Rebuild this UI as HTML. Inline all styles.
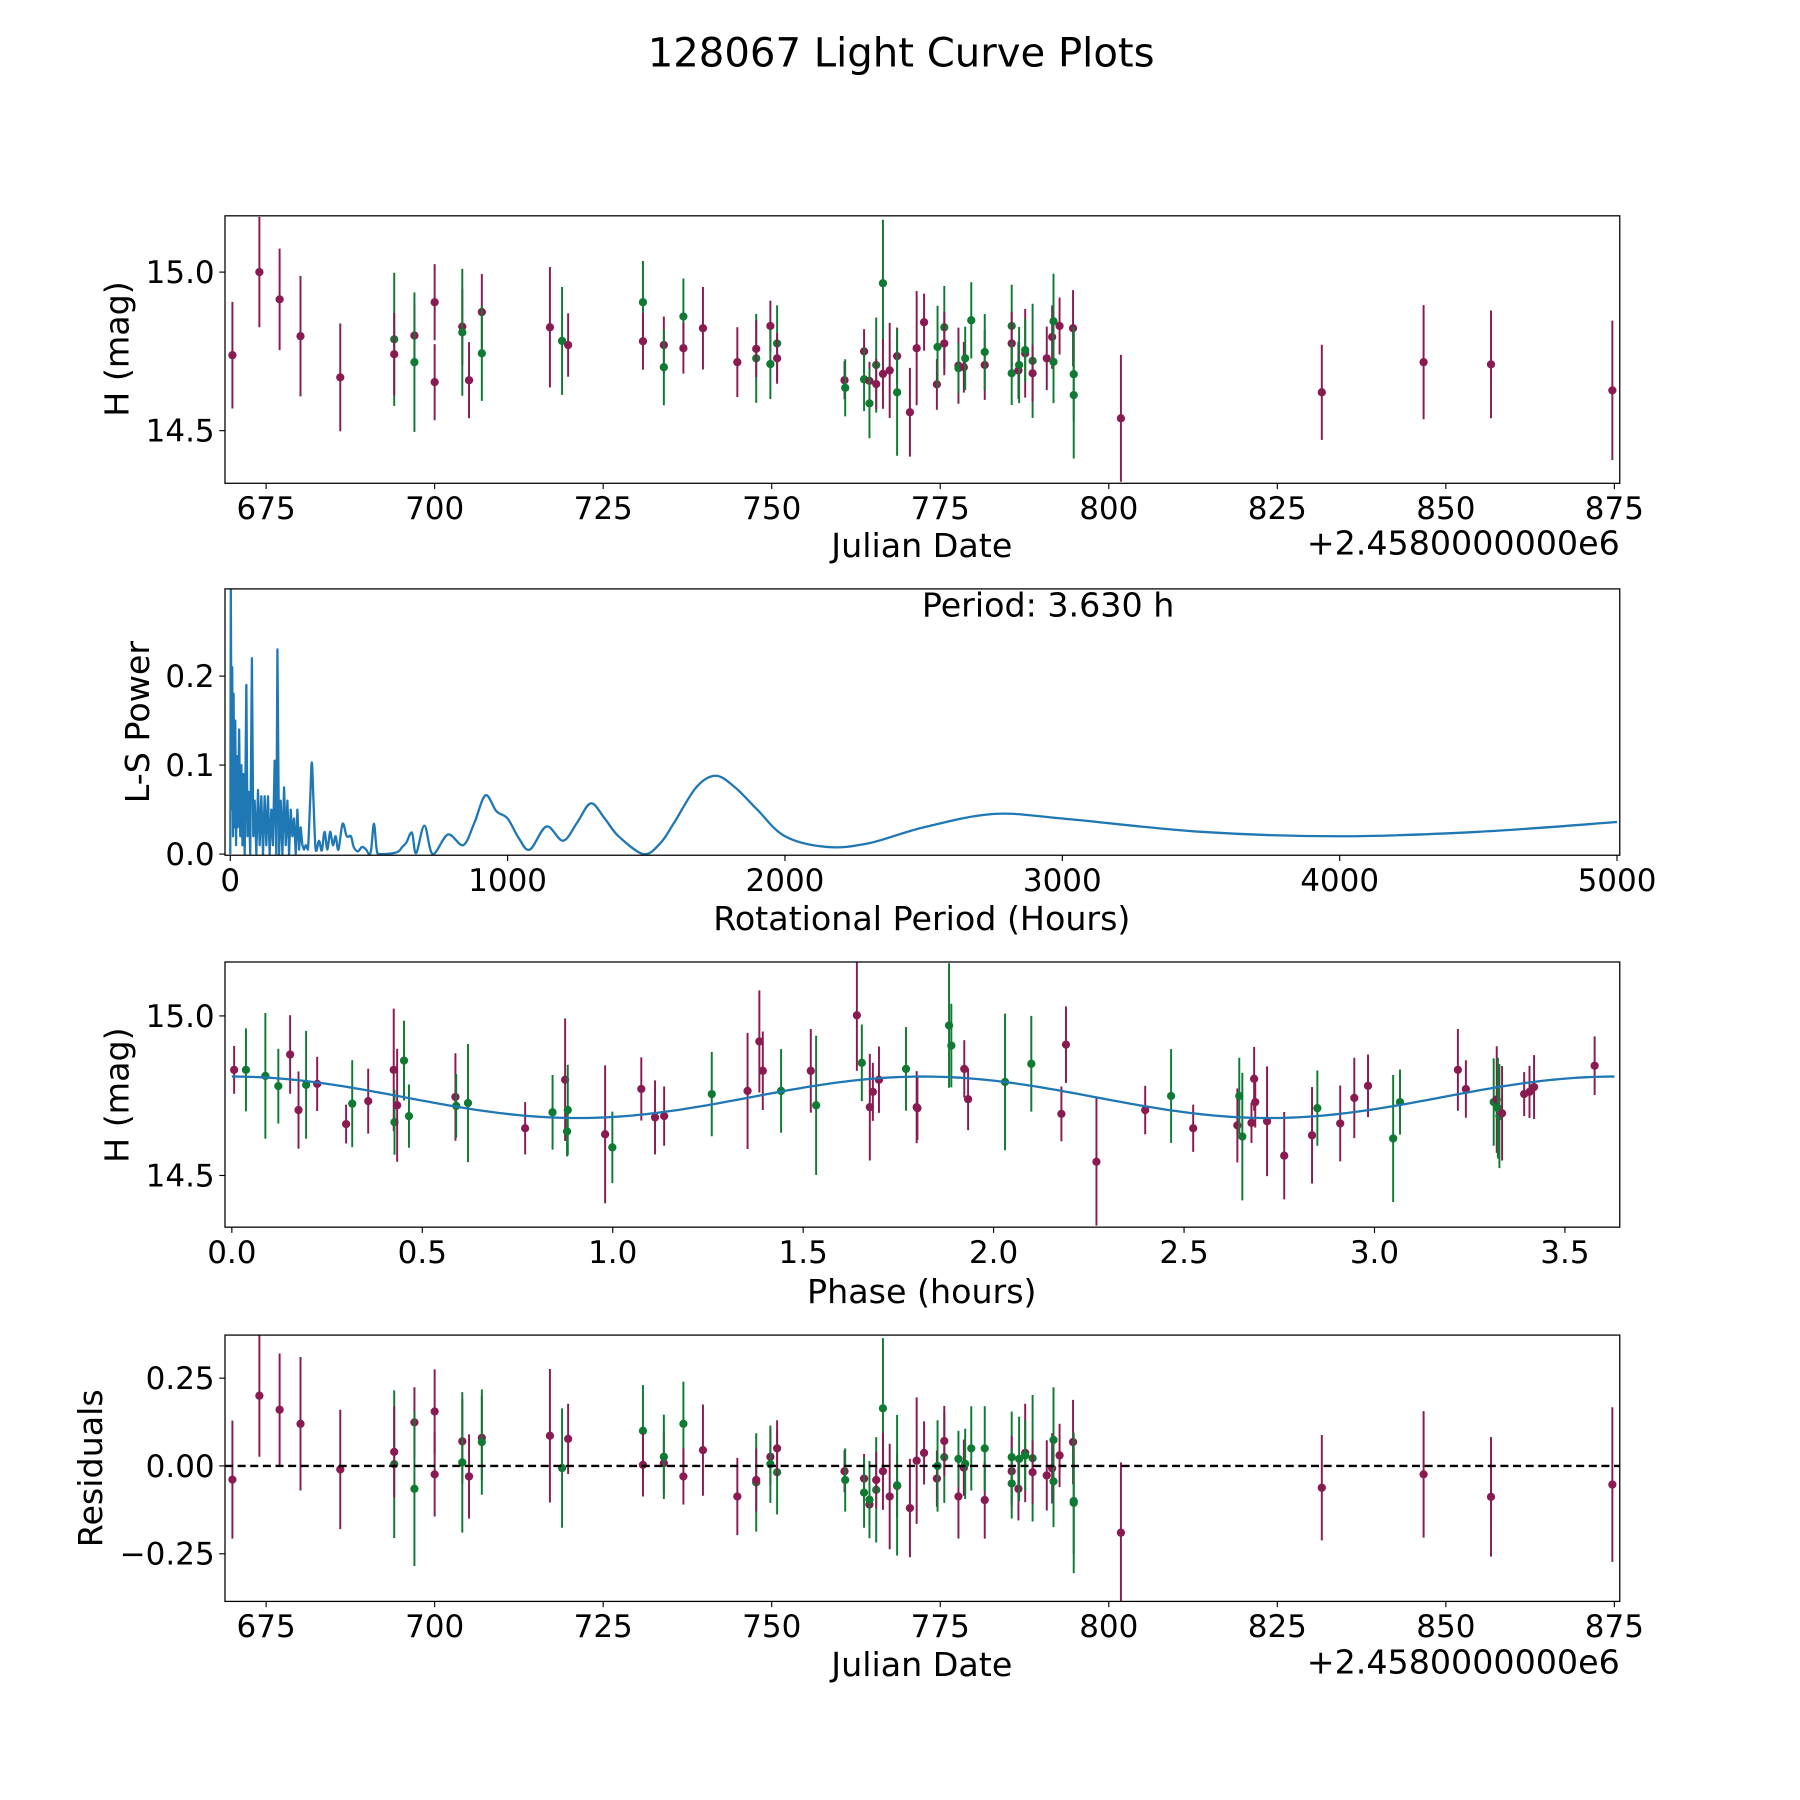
<!DOCTYPE html>
<html><head><meta charset="utf-8"><style>
html,body{margin:0;padding:0;background:#fff;}
svg{display:block;font-family:"DejaVu Sans","Liberation Sans",sans-serif;}
</style></head><body>
<svg id="fig" width="1800" height="1800" viewBox="0 0 1568 1568" xmlns="http://www.w3.org/2000/svg">
<rect x="0" y="0" width="1568" height="1568" fill="#fff"/>
<text x="785" y="58" font-size="35" text-anchor="middle">128067 Light Curve Plots</text>
</svg>
<script>
// ---- Data: panel 1 / 4 (Julian date offset from 2458000)
const jd   = [670.0,674.0,677.0,680.1,686.0,694.0,694.0,697.0,697.0,700.0,700.0,704.1,704.1,705.1,707.0,707.0,717.1,718.9,719.8,730.9,730.9,734.0,734.0,736.9,736.9,739.8,744.9,747.7,747.7,749.8,749.8,750.8,750.8,760.8,760.9,763.7,763.7,764.5,764.5,765.5,765.5,766.5,766.5,767.5,768.6,768.6,770.5,771.5,772.6,774.5,774.6,775.6,775.6,777.7,777.7,778.5,778.7,779.6,781.6,781.6,785.6,785.6,785.6,786.6,786.7,787.6,787.6,788.7,788.7,790.8,791.6,791.8,791.8,792.7,794.7,794.8,794.8,801.8,831.6,846.7,856.7,874.7];
const mag  = [14.738,15.0,14.914,14.798,14.668,14.788,14.741,14.80,14.716,14.905,14.653,14.828,14.81,14.659,14.874,14.744,14.826,14.783,14.77,14.905,14.782,14.77,14.70,14.86,14.76,14.823,14.716,14.728,14.758,14.83,14.71,14.775,14.728,14.659,14.635,14.75,14.662,14.657,14.586,14.707,14.647,14.965,14.679,14.69,14.735,14.621,14.558,14.76,14.842,14.646,14.764,14.826,14.775,14.705,14.697,14.70,14.728,14.848,14.707,14.748,14.83,14.775,14.681,14.69,14.707,14.744,14.754,14.72,14.681,14.728,14.795,14.845,14.717,14.83,14.823,14.678,14.612,14.539,14.621,14.716,14.709,14.627];
const err  = [0.168,0.174,0.16,0.19,0.17,0.21,0.13,0.1,0.22,0.12,0.12,0.12,0.2,0.12,0.12,0.15,0.19,0.17,0.1,0.13,0.09,0.09,0.12,0.12,0.08,0.13,0.11,0.14,0.09,0.08,0.11,0.12,0.08,0.06,0.09,0.07,0.1,0.06,0.11,0.15,0.08,0.2,0.11,0.15,0.09,0.2,0.14,0.18,0.09,0.08,0.13,0.13,0.1,0.12,0.08,0.08,0.1,0.12,0.11,0.12,0.13,0.1,0.1,0.09,0.12,0.14,0.1,0.18,0.09,0.1,0.1,0.15,0.13,0.09,0.12,0.15,0.2,0.2,0.15,0.18,0.17,0.22];
const col  = ['m','m','m','m','m','g','m','m','g','m','m','m','g','m','m','g','m','g','m','g','m','m','g','g','m','m','m','g','m','m','g','g','m','m','g','m','g','m','g','g','m','g','m','m','m','g','m','m','m','m','g','g','m','m','g','m','g','g','m','g','g','m','g','m','g','m','g','g','m','m','m','g','g','m','m','g','g','m','m','m','m','m'];
const resid= [-0.039,0.20,0.16,0.12,-0.01,0.005,0.04,0.124,-0.065,0.155,-0.024,0.07,0.01,-0.03,0.08,0.068,0.086,-0.006,0.077,0.10,0.003,0.008,0.026,0.12,-0.03,0.045,-0.087,-0.047,-0.04,0.026,0.005,-0.018,0.05,-0.015,-0.04,-0.036,-0.076,-0.11,-0.096,-0.068,-0.04,0.164,-0.015,-0.087,-0.057,-0.055,-0.12,0.015,0.037,-0.036,0.0,0.025,0.071,-0.087,0.02,-0.005,0.006,0.05,-0.097,0.05,0.025,-0.015,-0.05,-0.065,0.02,0.037,0.03,0.022,-0.018,-0.027,-0.007,0.074,-0.044,0.03,0.068,-0.10,-0.105,-0.19,-0.062,-0.024,-0.088,-0.053];

// ---- Data: panel 3 (phase-folded)
const phase = [0.006,0.037,0.088,0.122,0.153,0.175,0.195,0.224,0.30,0.316,0.358,0.425,0.427,0.434,0.452,0.465,0.587,0.589,0.62,0.77,0.842,0.875,0.882,0.88,0.98,0.999,1.075,1.111,1.135,1.26,1.354,1.385,1.394,1.442,1.52,1.534,1.641,1.654,1.675,1.683,1.699,1.77,1.798,1.80,1.883,1.889,1.923,1.933,2.03,2.099,2.19,2.178,2.27,2.398,2.466,2.524,2.64,2.645,2.653,2.677,2.684,2.687,2.718,2.763,2.836,2.85,2.91,2.947,2.983,3.049,3.067,3.219,3.24,3.313,3.321,3.324,3.328,3.335,3.393,3.407,3.419,3.578];
const pmag  = [14.831,14.831,14.812,14.78,14.879,14.705,14.784,14.787,14.661,14.725,14.733,14.831,14.667,14.72,14.86,14.686,14.746,14.718,14.727,14.648,14.698,14.80,14.705,14.638,14.629,14.588,14.771,14.682,14.686,14.755,14.765,14.92,14.828,14.765,14.828,14.72,15.002,14.853,14.714,14.762,14.80,14.834,14.714,14.711,14.97,14.907,14.834,14.739,14.793,14.85,14.91,14.693,14.543,14.705,14.749,14.648,14.657,14.749,14.622,14.665,14.803,14.73,14.67,14.562,14.626,14.711,14.663,14.743,14.781,14.616,14.73,14.831,14.771,14.73,14.738,14.711,14.686,14.695,14.755,14.762,14.777,14.844];
const perr  = [0.075,0.13,0.197,0.117,0.123,0.121,0.169,0.085,0.061,0.136,0.102,0.192,0.102,0.177,0.125,0.099,0.137,0.1,0.185,0.082,0.117,0.192,0.142,0.078,0.216,0.112,0.099,0.116,0.093,0.132,0.182,0.16,0.123,0.131,0.131,0.218,0.174,0.12,0.167,0.091,0.104,0.131,0.113,0.1,0.195,0.131,0.09,0.097,0.214,0.15,0.12,0.086,0.2,0.076,0.147,0.074,0.116,0.12,0.2,0.063,0.1,0.08,0.172,0.137,0.151,0.118,0.119,0.126,0.098,0.199,0.102,0.128,0.09,0.137,0.167,0.158,0.163,0.148,0.069,0.082,0.1,0.092];
const pcol  = ['m','g','g','g','m','m','g','m','m','g','m','m','g','m','g','g','m','g','g','m','g','m','g','g','m','g','m','m','m','g','m','m','m','g','m','g','m','g','m','m','m','g','m','m','g','g','m','m','g','g','m','m','m','m','g','m','m','g','g','m','m','m','m','m','m','g','m','m','m','g','g','m','m','g','m','g','g','m','m','m','m','m'];
const bestPeriod = 3.630;
const modelMean = 14.745, modelAmp = 0.065;

// ---- Data: panel 2 (Lomb-Scargle periodogram)
const lsPeriod = [0,2,5,7,10,12,15,18,21,24,27,32,36,40,44,48,52,58,62,66,72,78,83,88,94,100,106,112,118,124,130,136,142,148,154,160,166,170,176,182,188,194,200,206,212,218,224,230,236,242,248,254,260,266,272,280,288,294,300,308,320,330,340,350,360,370,380,390,405,420,435,445,460,475,490,500,508,518,528,540,600,620,635,655,670,700,730,785,840,880,920,960,1000,1040,1080,1140,1200,1250,1300,1350,1400,1490,1550,1600,1680,1750,1820,1900,2000,2150,2300,2500,2750,3000,3500,4000,4500,5000];
const lsPower  = [0.0,0.298,0.05,0.21,0.02,0.18,0.03,0.15,0.01,0.11,0.03,0.14,0.02,0.10,0.01,0.09,0.0,0.19,0.02,0.07,0.0,0.22,0.02,0.06,0.0,0.072,0.01,0.065,0.0,0.065,0.01,0.065,0.0,0.05,0.01,0.105,0.0,0.23,0.0,0.06,0.0,0.075,0.01,0.06,0.0,0.05,0.02,0.04,0.0,0.05,0.005,0.03,0.01,0.005,0.01,0.005,0.06,0.103,0.06,0.005,0.015,0.004,0.025,0.005,0.025,0.01,0.02,0.005,0.034,0.02,0.02,0.008,0.003,0.008,0.005,0.0,0.005,0.034,0.005,0.0,0.002,0.008,0.013,0.024,0.001,0.032,0.0,0.022,0.01,0.035,0.066,0.048,0.04,0.018,0.005,0.031,0.015,0.035,0.057,0.04,0.02,0.0,0.012,0.035,0.075,0.088,0.075,0.05,0.02,0.008,0.012,0.03,0.045,0.04,0.025,0.02,0.025,0.036];

// ---- Drawing helpers
const NS='http://www.w3.org/2000/svg';
const svg=document.getElementById('fig');
const MAG='#8a1a52', GRN='#0f7a33', BLUE='#1f77b4';
function mk(tag,attrs,parent){const e=document.createElementNS(NS,tag);for(const k in attrs)e.setAttribute(k,attrs[k]);(parent||svg).appendChild(e);return e;}
function scale(d0,d1,r0,r1){return v=>r0+(v-d0)/(d1-d0)*(r1-r0);}

function axesFrame(ax,name){
  const g=mk('g',{});
  
  
  return g;
}
function drawBox(ax,g){
  const r=mk('rect',{x:ax.x0,y:ax.y0,width:ax.x1-ax.x0,height:ax.y1-ax.y0,fill:'none',stroke:'#000','stroke-width':1.1},g);
  
  
}
function xTicks(ax,g,vals,labels){
  vals.forEach((v,i)=>{const x=ax.sx(v);
    mk('line',{x1:x,x2:x,y1:ax.y1,y2:ax.y1+5,stroke:'#000','stroke-width':1},g);
    const t=mk('text',{x:x,y:ax.y1+31,'font-size':27,'text-anchor':'middle'},g);t.textContent=labels[i];
    
    
  });
}
function yTicks(ax,g,vals,labels){
  vals.forEach((v,i)=>{const y=ax.sy(v);
    mk('line',{x1:ax.x0-5,x2:ax.x0,y1:y,y2:y,stroke:'#000','stroke-width':1},g);
    const t=mk('text',{x:ax.x0-9,y:y+9.5,'font-size':27,'text-anchor':'end'},g);t.textContent=labels[i];
    
    
  });
}
function label(g,x,y,txt,rot,name,anchor){
  const t=mk('text',{x:x,y:y,'font-size':29,'text-anchor':anchor||'middle'},g);
  if(rot)t.setAttribute('transform','rotate(-90 '+x+' '+y+')');
  t.textContent=txt;
  
  
}
function errPoints(ax,g,xs,ys,es,cs,name){
  const clipId='clip'+name;
  const cp=mk('clipPath',{id:clipId},g);mk('rect',{x:ax.x0,y:ax.y0,width:ax.x1-ax.x0,height:ax.y1-ax.y0},cp);
  const pg=mk('g',{'clip-path':'url(#'+clipId+')'},g);
  xs.forEach((xv,i)=>{
    const c=cs[i]==='g'?GRN:MAG;const x=ax.sx(xv);
    const l=mk('line',{x1:x,x2:x,y1:ax.sy(ys[i]-es[i]),y2:ax.sy(ys[i]+es[i]),stroke:c,'stroke-width':1.7},pg);
    
    
    const p=mk('circle',{cx:x,cy:ax.sy(ys[i]),r:3.6,fill:c},pg);
    
    
  });
  return pg;
}

const jdTicks=[675,700,725,750,775,800,825,850,875];
const JD_MIN=668.9, JD_MAX=875.8;

// ---- Panel 1
(function(){
  const ax={x0:196,x1:1411,y0:188,y1:421};
  ax.sx=scale(JD_MIN,JD_MAX,ax.x0,ax.x1);ax.sy=scale(14.334,15.1775,ax.y1,ax.y0);
  const g=axesFrame(ax,'light-curve-panel');
  errPoints(ax,g,jd,mag,err,col,'p1');
  drawBox(ax,g);
  xTicks(ax,g,jdTicks,jdTicks.map(String));
  yTicks(ax,g,[14.5,15.0],['14.5','15.0']);
  label(g,112,304,'H (mag)',true,'y-axis-title');
  label(g,803,485,'Julian Date',false,'x-axis-title');
  label(g,1411,483,'+2.4580000000e6',false,'x-offset-label','end');
})();

// ---- Panel 2
(function(){
  const ax={x0:196,x1:1411,y0:513,y1:745};
  ax.sx=scale(-19,5010,ax.x0,ax.x1);ax.sy=scale(-0.0013,0.298,ax.y1,ax.y0);
  const g=axesFrame(ax,'periodogram-panel');
  const cp=mk('clipPath',{id:'clipp2'},g);mk('rect',{x:ax.x0,y:ax.y0,width:ax.x1-ax.x0,height:ax.y1-ax.y0},cp);
  const P=lsPeriod.map((p,i)=>[ax.sx(p),ax.sy(lsPower[i])]);
  let d='M'+P[0][0].toFixed(2)+','+P[0][1].toFixed(2);
  for(let i=1;i<P.length;i++){
    if(lsPeriod[i]<=280){d+='L'+P[i][0].toFixed(2)+','+P[i][1].toFixed(2);continue;}
    const p0=P[Math.max(i-2,0)],p1=P[i-1],p2=P[i],p3=P[Math.min(i+1,P.length-1)];
    const c1x=p1[0]+(p2[0]-p0[0])/6,c1y=p1[1]+(p2[1]-p0[1])/6;
    const c2x=p2[0]-(p3[0]-p1[0])/6,c2y=p2[1]-(p3[1]-p1[1])/6;
    d+='C'+c1x.toFixed(2)+','+Math.min(c1y,ax.y1).toFixed(2)+' '+c2x.toFixed(2)+','+Math.min(c2y,ax.y1).toFixed(2)+' '+p2[0].toFixed(2)+','+p2[1].toFixed(2);
  }
  const path=mk('path',{d:d,fill:'none',stroke:BLUE,'stroke-width':2,'stroke-linejoin':'round','clip-path':'url(#clipp2)'},g);
  
  
  drawBox(ax,g);
  xTicks(ax,g,[0,1000,2000,3000,4000,5000],['0','1000','2000','3000','4000','5000']);
  yTicks(ax,g,[0,0.1,0.2],['0.0','0.1','0.2']);
  label(g,130,629,'L-S Power',true,'y-axis-title');
  label(g,803,810,'Rotational Period (Hours)',false,'x-axis-title');
  label(g,913,537,'Period: '+bestPeriod.toFixed(3)+' h',false,'period-annotation');
})();

// ---- Panel 3
(function(){
  const ax={x0:196,x1:1411,y0:838,y1:1069};
  ax.sx=scale(-0.018,3.644,ax.x0,ax.x1);ax.sy=scale(14.338,15.169,ax.y1,ax.y0);
  const g=axesFrame(ax,'phase-folded-panel');
  const pg=errPoints(ax,g,phase,pmag,perr,pcol,'p3');
  let d='';
  for(let i=0;i<=300;i++){const ph=bestPeriod*i/300;const m=modelMean+modelAmp*Math.cos(4*Math.PI*(ph-1.815)/bestPeriod);
    d+=(i?'L':'M')+ax.sx(ph).toFixed(2)+','+ax.sy(m).toFixed(2);}
  const mp=mk('path',{d:d,fill:'none',stroke:BLUE,'stroke-width':2},pg);
  
  
  drawBox(ax,g);
  xTicks(ax,g,[0,0.5,1,1.5,2,2.5,3,3.5],['0.0','0.5','1.0','1.5','2.0','2.5','3.0','3.5']);
  yTicks(ax,g,[14.5,15.0],['14.5','15.0']);
  label(g,112,954,'H (mag)',true,'y-axis-title');
  label(g,803,1135,'Phase (hours)',false,'x-axis-title');
})();

// ---- Panel 4
(function(){
  const ax={x0:196,x1:1411,y0:1163,y1:1395};
  ax.sx=scale(JD_MIN,JD_MAX,ax.x0,ax.x1);ax.sy=scale(-0.3856,0.3725,ax.y1,ax.y0);
  const g=axesFrame(ax,'residuals-panel');
  errPoints(ax,g,jd,resid,err,col,'p4');
  const z=mk('line',{x1:ax.x0,x2:ax.x1,y1:ax.sy(0),y2:ax.sy(0),stroke:'#000','stroke-width':2,'stroke-dasharray':'7,4'},g);
  
  
  drawBox(ax,g);
  xTicks(ax,g,jdTicks,jdTicks.map(String));
  yTicks(ax,g,[-0.25,0,0.25],['\u22120.25','0.00','0.25']);
  label(g,89,1279,'Residuals',true,'y-axis-title');
  label(g,803,1460,'Julian Date',false,'x-axis-title');
  label(g,1411,1458,'+2.4580000000e6',false,'x-offset-label','end');
})();
</script>
</body></html>
